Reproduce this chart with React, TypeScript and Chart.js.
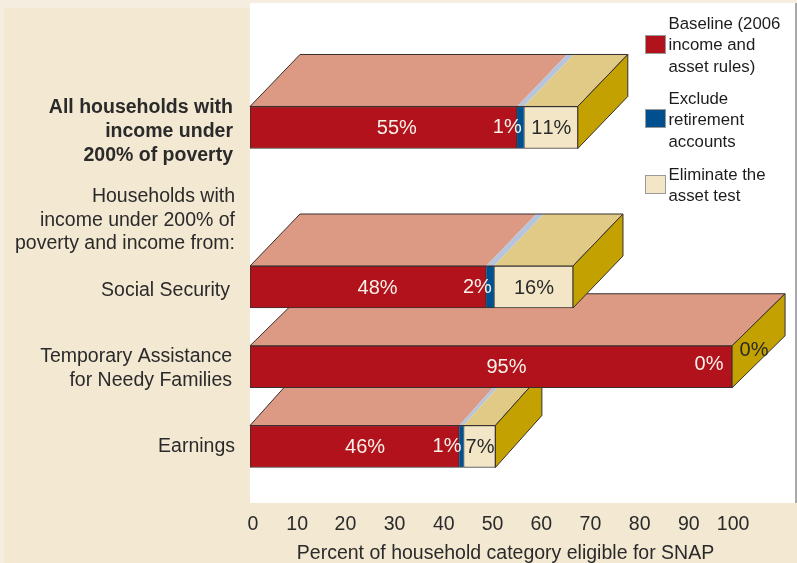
import React, { useEffect, useRef } from "react";
import { Chart, registerables } from "chart.js";

Chart.register(...registerables);

// Row 1 is the sub-heading row of the category axis and has no bar.
const categories: (string | string[])[] = [
  ["All households with", "income under", "200% of poverty"],
  ["Households with", "income under 200% of", "poverty and income from:"],
  "Social Security",
  ["Temporary Assistance", "for Needy Families"],
  "Earnings",
];
// Segment lengths as drawn in the picture (the printed labels differ from them)
const baselineValues = [55.4, null, 49.0, 100, 43.4];
const excludeValues = [1.4, null, 1.6, 0, 0.9];
const eliminateValues = [11.2, null, 16.4, 0, 6.6];
const baselineLabels = ["55%", "", "48%", "95%", "46%"];
const excludeLabels = ["1%", "", "2%", "0%", "1%"];
const eliminateLabels = ["11%", "", "16%", "0%", "7%"];
const xTicksMax = 100;
const axisTitle = "Percent of household category eligible for SNAP";

const seriesNames = ["Baseline (2006 income and asset rules)", "Exclude retirement accounts", "Eliminate the asset test"];
const legendLines = [
  ["Baseline (2006", "income and", "asset rules)"],
  ["Exclude", "retirement", "accounts"],
  ["Eliminate the", "asset test"],
];

const FONT = '"Liberation Sans", Arial, sans-serif';
const INK = "#2a2a2a";
const EDGE = "#37302e";
const frontColors = ["#b2121b", "#00508f", "#f3e6c6"];
const topColors = ["#dc9983", "#b6c4dc", "#e0ca85"];
const SIDE = "#c3a100";
const DEPTH_X = [50, 0, 50, 53, 46.5];
const DEPTH_Y = 52;
// hand-set label nudges of the printed chart
const Y_NUDGE = [[-1, 4], [1, 13], [-4, 4], [-2, 2], [1, 0]];
const X_NUDGE = [3, -1, -1, 0, 1, 1.5, 2, 3, 4, 5, 1];
const BASE_LABEL_AT = [0.55, 0, 0.54, 0.532, 0.55];

function poly(ctx: CanvasRenderingContext2D, pts: number[][], fill: string | null, stroke: boolean) {
  ctx.beginPath();
  pts.forEach((p, i) => (i ? ctx.lineTo(p[0], p[1]) : ctx.moveTo(p[0], p[1])));
  ctx.closePath();
  if (fill) {
    ctx.fillStyle = fill;
    ctx.fill();
  }
  if (stroke) {
    ctx.lineWidth = 1;
    ctx.strokeStyle = EDGE;
    ctx.stroke();
  }
}

const depthPlugin = {
  id: "depthFaces",
  beforeDraw(chart: any) {
    const nudge = (scale: any, fn: (i: number) => number[]) => {
      const items = scale.getLabelItems(chart.chartArea);
      if (scale.$nudged) return;
      scale.$nudged = true;
      items.forEach((it: any, i: number) => {
        const [dx, dy] = fn(i);
        it.options.translation = [it.options.translation[0] + dx, it.options.translation[1] + dy];
      });
    };
    nudge(chart.scales.y, (i) => Y_NUDGE[i]);
    nudge(chart.scales.x, (i) => [X_NUDGE[i], 0]);
  },
  beforeDatasetsDraw(chart: any) {
    const ctx = chart.ctx;
    ctx.save();
    for (let row = categories.length - 1; row >= 0; row--) {
      if (baselineValues[row] == null) continue;
      const dx = DEPTH_X[row];
      const parts = [0, 1, 2].map((d) =>
        chart.getDatasetMeta(d).data[row].getProps(["x", "base", "y", "height"], true)
      );
      const top = parts[0].y - parts[0].height / 2;
      const h = parts[0].height;
      const start = parts[0].base;
      const end = Math.max(...parts.map((p: any) => p.x));
      parts.forEach((p: any, d: number) => {
        if (p.x - p.base < 0.01) return;
        poly(ctx, [[p.base, top], [p.x, top], [p.x + dx, top - DEPTH_Y], [p.base + dx, top - DEPTH_Y]], topColors[d], false);
      });
      poly(ctx, [[start, top], [end, top], [end + dx, top - DEPTH_Y], [start + dx, top - DEPTH_Y]], null, true);
      poly(ctx, [[end, top], [end + dx, top - DEPTH_Y], [end + dx, top - DEPTH_Y + h], [end, top + h]], SIDE, true);
    }
    ctx.restore();
  },
  afterDatasetsDraw(chart: any) {
    const ctx = chart.ctx;
    ctx.save();
    ctx.font = `20px ${FONT}`;
    (ctx as any).fontKerning = "none";
    ctx.textAlign = "center";
    ctx.textBaseline = "middle";
    for (let row = 0; row < categories.length; row++) {
      if (baselineValues[row] == null) continue;
      const props = [0, 1, 2].map((d) =>
        chart.getDatasetMeta(d).data[row].getProps(["x", "base", "y", "height"], true)
      );
      const [a, b, c] = props;
      const cy = a.y + 1;
      ctx.fillStyle = "#f7f1ea";
      ctx.fillText(baselineLabels[row], a.base + (a.x - a.base) * BASE_LABEL_AT[row], cy);
      const flat = c.x - c.base < 0.01;
      ctx.fillText(excludeLabels[row], b.x - (flat ? 23 : 16.5), flat ? cy - 3 : cy - 1);
      ctx.fillStyle = INK;
      if (flat) ctx.fillText(eliminateLabels[row], c.x + 22, cy - 17);
      else ctx.fillText(eliminateLabels[row], (c.x + c.base) / 2 + 0.5, cy);
    }
    // legend block, drawn from the series colours
    const boxTops = [35, 109, 175];
    const lineTops = [24, 99, 175];
    legendLines.forEach((lines, i) => {
      ctx.fillStyle = frontColors[i];
      ctx.fillRect(645.5, boxTops[i] + 0.5, 20, 18);
      ctx.strokeStyle = "#9a9a9a";
      ctx.lineWidth = 1;
      ctx.strokeRect(645.5, boxTops[i] + 0.5, 20, 18);
      ctx.fillStyle = "#1c1c1c";
      ctx.font = `16.8px ${FONT}`;
      ctx.textAlign = "left";
      lines.forEach((t, k) => ctx.fillText(t, 668.5, lineTops[i] + k * 21.7));
    });
    ctx.restore();
  },
};

export default function App() {
  const ref = useRef<HTMLCanvasElement>(null);
  useEffect(() => {
    const values = [baselineValues, excludeValues, eliminateValues];
    const chart = new Chart(ref.current!, {
      type: "bar",
      data: {
        labels: categories as any,
        datasets: values.map((data, i) => ({
          label: seriesNames[i],
          data: data as any,
          backgroundColor: frontColors[i],
          borderColor: EDGE,
          borderWidth: i === 1 ? { top: 1, bottom: 1, left: 0, right: 0 } : 1,
          borderSkipped: false,
          barThickness: 42,
        })),
      },
      options: {
        indexAxis: "y",
        responsive: false,
        animation: false,
        devicePixelRatio: 1,
        layout: { padding: { top: 87.6, left: 0, right: 36, bottom: 0 } },
        plugins: { legend: { display: false }, tooltip: { enabled: false }, title: { display: false } },
        scales: {
          x: {
            stacked: true,
            min: 0,
            max: 106,
            grid: { display: false, drawTicks: false },
            border: { display: false },
            afterBuildTicks: (s: any) => {
              s.ticks = s.ticks.filter((t: any) => t.value <= xTicksMax);
            },
            afterFit: (s: any) => {
              s.height = 76.6;
            },
            ticks: {
              stepSize: 10,
              includeBounds: false,
              autoSkip: false,
              maxRotation: 0,
              padding: 27,
              color: INK,
              font: { family: FONT, size: 19.5 },
            },
            title: {
              display: true,
              text: axisTitle,
              color: INK,
              font: { family: FONT, size: 19.5, lineHeight: 1 },
              padding: { top: 0, bottom: 0 },
            },
          },
          y: {
            stacked: true,
            grid: { display: false, drawTicks: false },
            border: { display: false },
            afterFit: (s: any) => {
              s.width = 250;
            },
            ticks: {
              autoSkip: false,
              padding: 16,
              color: INK,
              font: (c: any) => ({
                family: FONT,
                size: 19.5,
                lineHeight: 1.215,
                weight: c.index === 0 ? "bold" : "normal",
              }),
            },
          },
        },
      },
      plugins: [depthPlugin],
    } as any);
    return () => chart.destroy();
  }, []);
  return (
    <div style={{ position: "fixed", left: 0, top: 0, width: 797, height: 563, background: "#f3e8d2", overflow: "hidden" }}>
      <div style={{ position: "absolute", left: 0, top: 0, width: 797, height: 8, background: "#f5eee0" }} />
      <div style={{ position: "absolute", left: 0, top: 0, width: 4, height: 563, background: "#f5eee0" }} />
      <div style={{ position: "absolute", left: 250, top: 3, width: 545, height: 500, background: "#ffffff" }} />
      <div style={{ position: "absolute", left: 795, top: 3, width: 2, height: 500, background: "#a8a8a8" }} />
      <canvas ref={ref} width={797} height={563} style={{ position: "absolute", left: 0, top: 0, display: "block" }} />
    </div>
  );
}
